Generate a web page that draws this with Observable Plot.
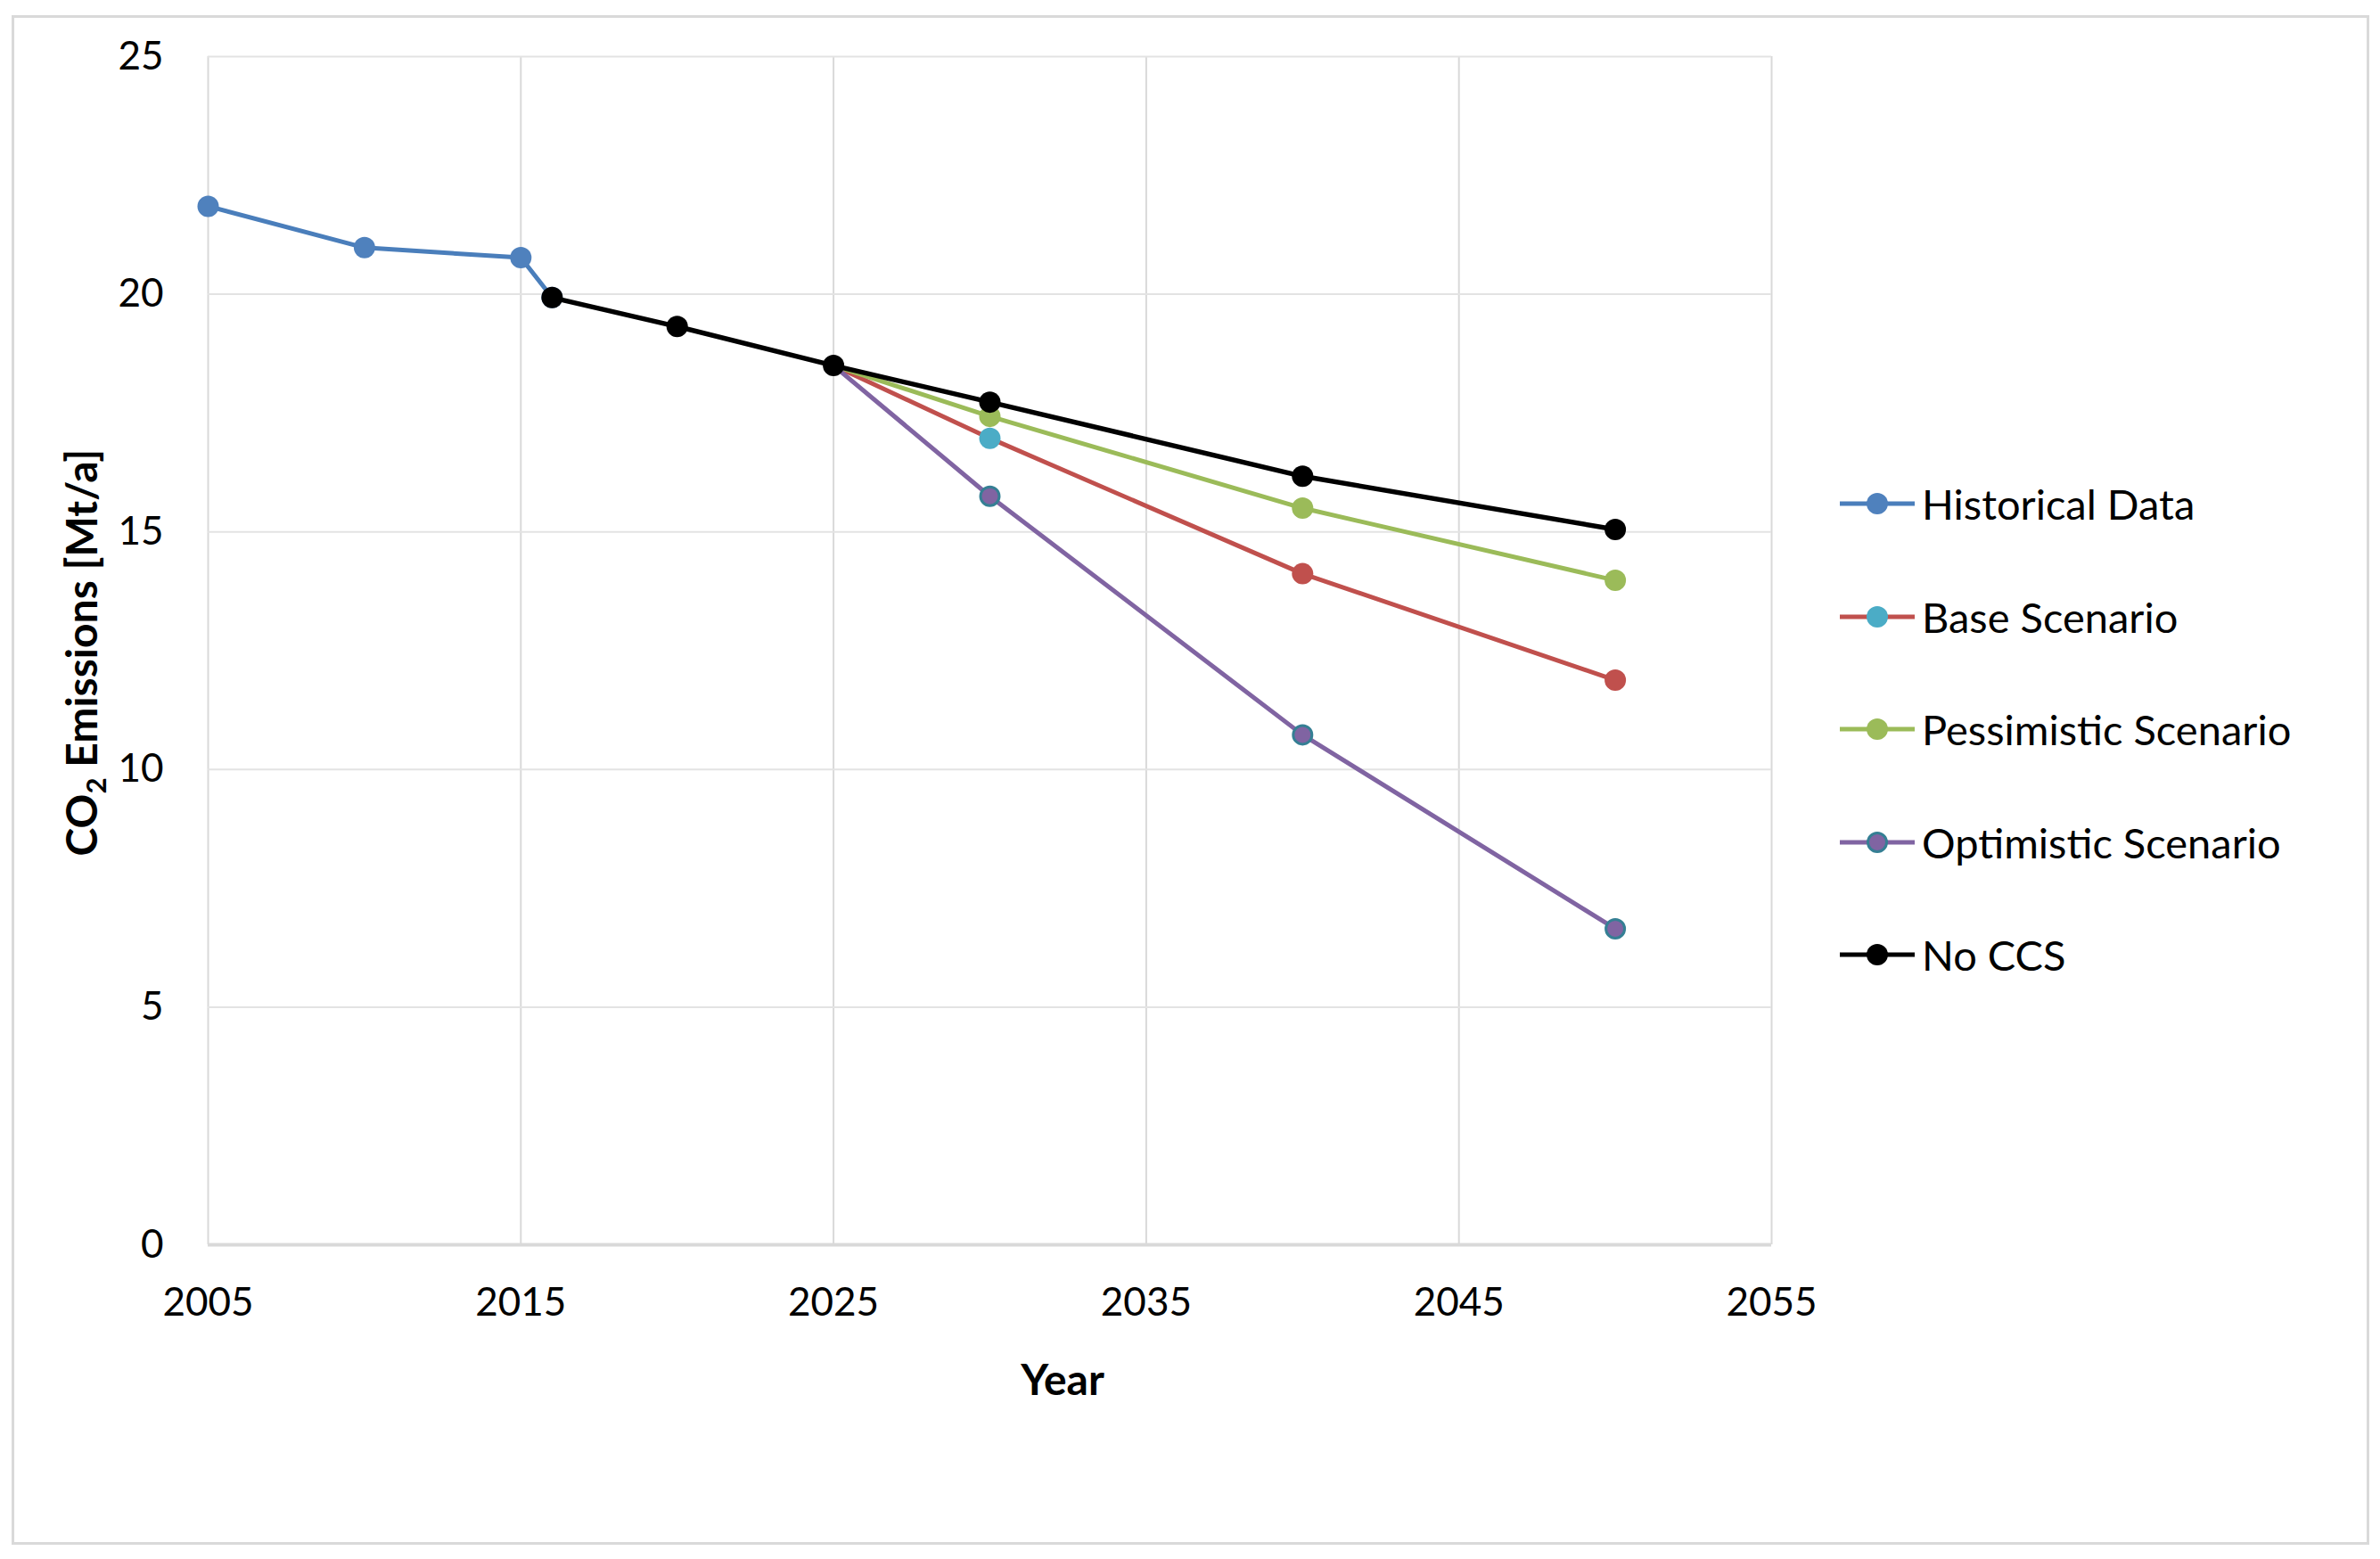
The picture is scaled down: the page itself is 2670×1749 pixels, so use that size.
<!DOCTYPE html>
<html>
<head>
<meta charset="utf-8">
<script src="https://cdn.jsdelivr.net/npm/d3@7"></script>
<script src="https://cdn.jsdelivr.net/npm/@observablehq/plot@0.6"></script>
<style>
  html, body { margin: 0; padding: 0; background: #fff; }
  #wrap { position: relative; width: 2670px; height: 1749px; font-family: Lato, "Open Sans", sans-serif; color: #000; }
  #frame { position: absolute; left: 13px; top: 17px; width: 2645px; height: 1716px; border: 3px solid #d9d9d9; box-sizing: border-box; pointer-events: none; }
  #chart { position: absolute; left: 0; top: 0; }
  .title { position: absolute; font-weight: bold; font-size: 48px; white-space: nowrap; }
  #ytitle { left: 94px; top: 732px; transform: translate(-50%, -50%) rotate(-90deg); }
  #xtitle { left: 1192px; top: 1546px; transform: translate(-50%, -50%); }
  #legend { position: absolute; left: 2064px; top: 0; }
  .item { position: absolute; left: 0; height: 60px; display: flex; align-items: center; white-space: nowrap; font-size: 47px; }
  .item span { margin-left: 8px; }
</style>
</head>
<body>
<div id="wrap">
  <div id="frame"></div>
  <div id="chart"></div>
  <div class="title" id="ytitle">CO<sub style="font-size:0.65em">2</sub> Emissions [Mt/a]</div>
  <div class="title" id="xtitle">Year</div>
  <div id="legend"></div>
</div>
<script>
// ---- data ----
const xTicks = [2005, 2015, 2025, 2035, 2045, 2055];
const yTicks = [0, 5, 10, 15, 20, 25];

const histYears = [2005, 2010, 2015, 2016];
const histValues = [21.85, 20.98, 20.77, 19.93];

const noCcsYears = [2016, 2020, 2025, 2030, 2040, 2050];
const noCcsValues = [19.93, 19.32, 18.5, 17.73, 16.17, 15.05];

const scenarioYears = [2025, 2030, 2040, 2050];
const baseValues = [18.5, 16.97, 14.12, 11.88];
const pessimisticValues = [18.5, 17.43, 15.5, 13.98];
const optimisticValues = [18.5, 15.75, 10.73, 6.65];

const seriesNames = ["Historical Data", "Base Scenario", "Pessimistic Scenario", "Optimistic Scenario", "No CCS"];

// ---- build tables ----
const toRows = (years, values) => years.map((x, i) => ({x, y: values[i], i}));
const hist = toRows(histYears, histValues);
const noCcs = toRows(noCcsYears, noCcsValues);
const base = toRows(scenarioYears, baseValues);
const pess = toRows(scenarioYears, pessimisticValues);
const opti = toRows(scenarioYears, optimisticValues);
const after2025 = rows => rows.filter(d => d.x > 2025);

const C = {
  blue: "#4a7ebb", blueM: "#4f81bd", red: "#c0504d", cyan: "#4bacc6",
  green: "#9bbb59", purple: "#8064a2", teal: "#357f94", black: "#000"
};
const LW = 5, R = 12;

const chart = Plot.plot({
  width: 2670,
  height: 1749,
  marginLeft: 233,
  marginRight: 683,
  marginTop: 63,
  marginBottom: 353,
  style: {fontFamily: "Lato, 'Open Sans', sans-serif", fontSize: "44px", color: "#000", background: "transparent", overflow: "visible"},
  x: {domain: [2005, 2055], ticks: xTicks, tickFormat: d => String(d), tickSize: 0, tickPadding: 48, label: null},
  y: {domain: [0, 25], ticks: yTicks, tickFormat: d => String(d), tickSize: 0, tickPadding: 50, label: null},
  marks: [
    Plot.gridX(xTicks, {stroke: "#d9d9d9", strokeOpacity: 1, strokeWidth: 2}),
    Plot.gridY(yTicks, {stroke: "#e3e3e3", strokeOpacity: 1, strokeWidth: 2}),
    Plot.ruleY([0], {stroke: "#d9d9d9", strokeWidth: 4}),
    Plot.line(hist, {x: "x", y: "y", stroke: C.blue, strokeWidth: LW}),
    Plot.dot(hist, {x: "x", y: "y", r: R, fill: C.blueM, stroke: "none"}),
    Plot.line(base, {x: "x", y: "y", stroke: C.red, strokeWidth: LW}),
    Plot.dot(after2025(base), {x: "x", y: "y", r: R, fill: d => d.x === 2030 ? C.cyan : C.red, stroke: "none"}),
    Plot.line(pess, {x: "x", y: "y", stroke: C.green, strokeWidth: LW}),
    Plot.dot(after2025(pess), {x: "x", y: "y", r: R, fill: C.green, stroke: "none"}),
    Plot.line(opti, {x: "x", y: "y", stroke: C.purple, strokeWidth: LW}),
    Plot.dot(after2025(opti), {x: "x", y: "y", r: R - 1.5, fill: C.purple, stroke: C.teal, strokeWidth: 3}),
    Plot.line(noCcs, {x: "x", y: "y", stroke: C.black, strokeWidth: LW + 0.5}),
    Plot.dot(noCcs, {x: "x", y: "y", r: R, fill: C.black, stroke: "none"})
  ]
});
document.getElementById("chart").appendChild(chart);

// ---- legend ----
const legendStyles = [
  {line: C.blue, fill: C.blueM, stroke: "none"},
  {line: C.red, fill: C.cyan, stroke: "none"},
  {line: C.green, fill: C.green, stroke: "none"},
  {line: C.purple, fill: C.purple, stroke: C.teal},
  {line: C.black, fill: C.black, stroke: "none"}
];
const legend = document.getElementById("legend");
seriesNames.forEach((name, i) => {
  const s = legendStyles[i];
  const item = document.createElement("div");
  item.className = "item";
  item.style.top = (565 + i * 126.5 - 30) + "px";
  item.innerHTML = `<svg width="84" height="28" style="display:block">
      <line x1="0" x2="84" y1="14" y2="14" stroke="${s.line}" stroke-width="${LW}"/>
      <circle cx="42" cy="14" r="${s.stroke === "none" ? R : R - 1.5}" fill="${s.fill}" stroke="${s.stroke}" stroke-width="3"/>
    </svg><span></span>`;
  item.querySelector("span").textContent = name;
  legend.appendChild(item);
});
</script>
</body>
</html>
